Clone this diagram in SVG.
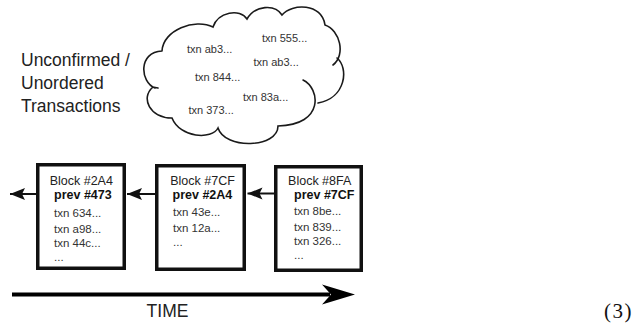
<svg xmlns="http://www.w3.org/2000/svg" width="638" height="325" viewBox="0 0 638 325">
<style>
text{font-family:"Liberation Sans",Arial,sans-serif;fill:#222}
.lbl{font-size:17.5px}
.ttl{font-size:12.5px;text-anchor:middle}
.prv{font-size:12.5px;font-weight:bold;fill:#111}
.tx{font-size:11.5px;fill:#333}
.ctx{font-size:11px;fill:#333}
.box{fill:#fff;stroke:#111;stroke-width:3.5}
.cloud{fill:none;stroke:#1a1a1a;stroke-width:1.6;stroke-linecap:round}
.conn{stroke:#111;stroke-width:2;fill:none}
.eq{font-family:"Liberation Serif","Times New Roman",serif;font-size:21px;fill:#111;letter-spacing:1.5px}
</style>
<defs>
<marker id="ah" markerUnits="userSpaceOnUse" markerWidth="16" markerHeight="13" refX="15" refY="6" orient="auto">
<path d="M0,0 L15,6 L0,12 L3,6 Z" fill="#111"/>
</marker>
</defs>
<rect width="638" height="325" fill="#fff"/>
<g id="label">
<text class="lbl" x="21" y="65.5">Unconfirmed /</text>
<text class="lbl" x="21" y="88.5">Unordered</text>
<text class="lbl" x="21" y="111.5">Transactions</text>
</g>
<g id="cloud">
<path class="cloud" d="M162,51 C163,30 195,18 213,27 C218,12 240,8 247,19 C255,5 275,4 282,15 C292,3 322,3 325,25 C340,30 346,55 333,65 M337,58 C349,68 346,98 318,103 M303,80 C320,88 325,125 278,126 C278,148 225,150 218,128 C212,140 180,138 172,118 C150,118 140,98 153,87 L158,88 M155,88 C140,82 138,52 162,51"/>
<text class="ctx" x="262" y="41.5">txn 555...</text>
<text class="ctx" x="187" y="53">txn ab3...</text>
<text class="ctx" x="253.5" y="66">txn ab3...</text>
<text class="ctx" x="195" y="80.5">txn 844...</text>
<text class="ctx" x="243" y="100.5">txn 83a...</text>
<text class="ctx" x="188.5" y="114">txn 373...</text>
</g>
<g id="block-2A4">
<rect class="box" x="37.75" y="164.75" width="86.5" height="103.5"/>
<text class="ttl" x="81.3" y="184.5">Block #2A4</text>
<text class="prv" x="54" y="198.5">prev #473</text>
<text class="tx" x="54" y="217">txn 634...</text>
<text class="tx" x="54" y="232.5">txn a98...</text>
<text class="tx" x="54" y="247">txn 44c...</text>
<text class="tx" x="54" y="260.5">...</text>
</g>
<g id="block-7CF">
<rect class="box" x="156.75" y="165.75" width="87.5" height="103.5"/>
<text class="ttl" x="202.5" y="184.5">Block #7CF</text>
<text class="prv" x="172.5" y="198.5">prev #2A4</text>
<text class="tx" x="173" y="216">txn 43e...</text>
<text class="tx" x="173" y="232">txn 12a...</text>
<text class="tx" x="173" y="245.5">...</text>
</g>
<g id="block-8FA">
<rect class="box" x="275.75" y="166.75" width="85.5" height="103.5"/>
<text class="ttl" x="319.7" y="184.5">Block #8FA</text>
<text class="prv" x="294" y="198.5">prev #7CF</text>
<text class="tx" x="294" y="215">txn 8be...</text>
<text class="tx" x="294" y="230.5">txn 839...</text>
<text class="tx" x="294" y="245">txn 326...</text>
<text class="tx" x="294" y="258.5">...</text>
</g>
<g id="connectors">
<line class="conn" x1="36" y1="194" x2="10" y2="194" marker-end="url(#ah)"/>
<line class="conn" x1="155" y1="194" x2="127" y2="194" marker-end="url(#ah)"/>
<line class="conn" x1="274" y1="193.5" x2="247.5" y2="193.5" marker-end="url(#ah)"/>
</g>
<g id="time-axis">
<line x1="12" y1="294.5" x2="330" y2="294.5" stroke="#000" stroke-width="4"/>
<path d="M355,294.5 L322,284.5 L331,294.5 L322,304.5 Z" fill="#000"/>
<text x="167.5" y="316.7" font-size="17.5" text-anchor="middle" fill="#111">TIME</text>
</g>
<text class="eq" x="604" y="318">(3)</text>
</svg>
